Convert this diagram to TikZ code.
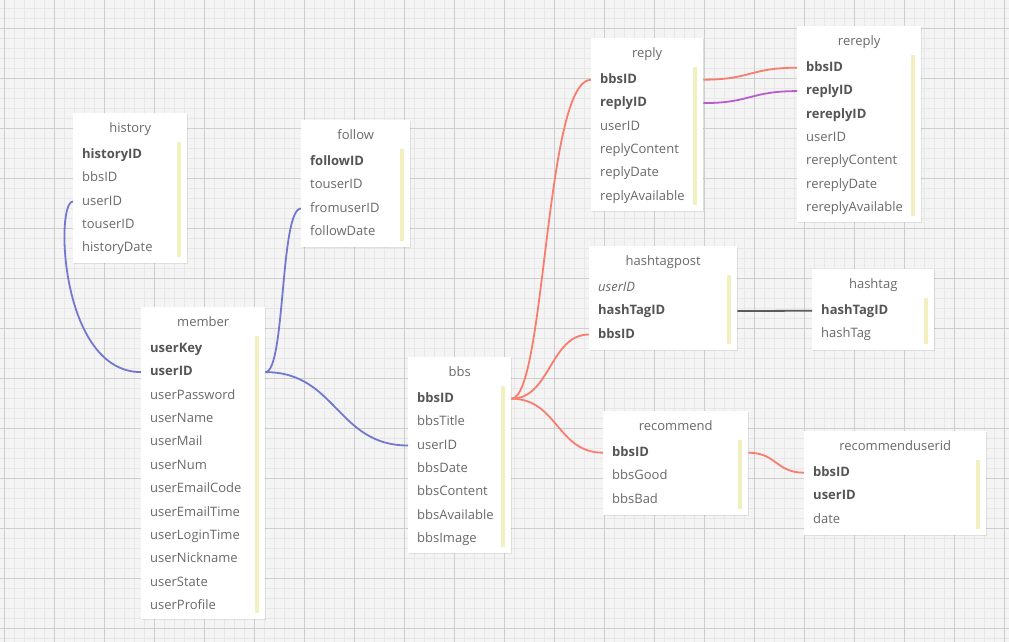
\documentclass[tikz,border=0pt]{standalone}
\usepackage{fontspec}
\setmainfont{Open Sans}
\usetikzlibrary{positioning,shadows}
\definecolor{gridbg}{RGB}{244,244,244}
\definecolor{gridminor}{RGB}{231,231,231}
\definecolor{gridmajor}{RGB}{206,206,206}
\definecolor{txtgray}{RGB}{105,105,105}
\definecolor{keygray}{RGB}{85,85,85}
\definecolor{baryellow}{RGB}{243,240,192}
\definecolor{userblue}{RGB}{115,120,205}
\definecolor{bbsred}{RGB}{248,125,110}
\definecolor{replypurple}{RGB}{185,92,205}
\definecolor{tagdark}{RGB}{90,90,90}

\begin{document}
\begin{tikzpicture}[
  x=1pt, y=-1pt,
  tbl/.style={rectangle, anchor=north west, fill=white, inner sep=0pt,
    drop shadow={shadow xshift=0.6pt, shadow yshift=-1pt, opacity=0.18}},
  ttl/.style={anchor=north, minimum height=31pt, inner sep=0pt, text height=9.5pt, text depth=2.5pt,
    text=txtgray, font=\fontsize{13}{15}\selectfont},
  field/.style={inner sep=0pt, minimum height=23pt, text height=9.5pt, text depth=2.5pt,
    text=txtgray, font=\fontsize{13}{15}\selectfont},
  key/.style={field, text=keygray, font=\fontsize{13}{15}\selectfont\bfseries},
  first/.style={below right=30pt and 9pt of #1.north west},
  under/.style={below right=0pt and 0pt of #1.south west},
  bar/.style={draw=baryellow, line width=4pt},
  link/.style={line width=1.8pt}
]
  \useasboundingbox (0,0) rectangle (1009,642);
  % grid
  \fill[gridbg] (0,0) rectangle (1009,642);
  \draw[gridminor, line width=0.9pt, shift={(4,8)}, step=10pt] (-4,-8) grid (1005,634);
  \draw[gridmajor, line width=0.9pt, shift={(4,28)}, step=50pt] (-4,-28) grid (1005,614);

  % history
  \node[tbl, minimum width=114pt, minimum height=150pt] (history) at (73,113) {};
  \node[ttl] (history-t) at (history.north) {history};
  \node[key, first=history] (history-historyID) {historyID};
  \node[field, under=history-historyID] (history-bbsID) {bbsID};
  \node[field, under=history-bbsID] (history-userID) {userID};
  \node[field, under=history-userID] (history-touserID) {touserID};
  \node[field, under=history-touserID] (history-historyDate) {historyDate};

  % follow
  \node[tbl, minimum width=109pt, minimum height=127pt] (follow) at (301,120) {};
  \node[ttl] (follow-t) at (follow.north) {follow};
  \node[key, first=follow] (follow-followID) {followID};
  \node[field, under=follow-followID] (follow-touserID) {touserID};
  \node[field, under=follow-touserID] (follow-fromuserID) {fromuserID};
  \node[field, under=follow-fromuserID] (follow-followDate) {followDate};

  % member
  \node[tbl, minimum width=124pt, minimum height=312pt] (member) at (141,307) {};
  \node[ttl] (member-t) at (member.north) {member};
  \node[key, first=member] (member-userKey) {userKey};
  \node[key, under=member-userKey] (member-userID) {userID};
  \node[field, under=member-userID] (member-userPassword) {userPassword};
  \node[field, under=member-userPassword] (member-userName) {userName};
  \node[field, under=member-userName] (member-userMail) {userMail};
  \node[field, under=member-userMail] (member-userNum) {userNum};
  \node[field, under=member-userNum] (member-userEmailCode) {userEmailCode};
  \node[field, under=member-userEmailCode] (member-userEmailTime) {userEmailTime};
  \node[field, under=member-userEmailTime] (member-userLoginTime) {userLoginTime};
  \node[field, under=member-userLoginTime] (member-userNickname) {userNickname};
  \node[field, under=member-userNickname] (member-userState) {userState};
  \node[field, under=member-userState] (member-userProfile) {userProfile};

  % bbs
  \node[tbl, minimum width=103pt, minimum height=196pt] (bbs) at (408,357) {};
  \node[ttl] (bbs-t) at (bbs.north) {bbs};
  \node[key, first=bbs] (bbs-bbsID) {bbsID};
  \node[field, under=bbs-bbsID] (bbs-bbsTitle) {bbsTitle};
  \node[field, under=bbs-bbsTitle] (bbs-userID) {userID};
  \node[field, under=bbs-userID] (bbs-bbsDate) {bbsDate};
  \node[field, under=bbs-bbsDate] (bbs-bbsContent) {bbsContent};
  \node[field, under=bbs-bbsContent] (bbs-bbsAvailable) {bbsAvailable};
  \node[field, under=bbs-bbsAvailable] (bbs-bbsImage) {bbsImage};

  % reply
  \node[tbl, minimum width=112pt, minimum height=173pt] (reply) at (591,38) {};
  \node[ttl] (reply-t) at (reply.north) {reply};
  \node[key, first=reply] (reply-bbsID) {bbsID};
  \node[key, under=reply-bbsID] (reply-replyID) {replyID};
  \node[field, under=reply-replyID] (reply-userID) {userID};
  \node[field, under=reply-userID] (reply-replyContent) {replyContent};
  \node[field, under=reply-replyContent] (reply-replyDate) {replyDate};
  \node[field, under=reply-replyDate] (reply-replyAvailable) {replyAvailable};

  % rereply
  \node[tbl, minimum width=124pt, minimum height=196pt] (rereply) at (797,26) {};
  \node[ttl] (rereply-t) at (rereply.north) {rereply};
  \node[key, first=rereply] (rereply-bbsID) {bbsID};
  \node[key, under=rereply-bbsID] (rereply-replyID) {replyID};
  \node[key, under=rereply-replyID] (rereply-rereplyID) {rereplyID};
  \node[field, under=rereply-rereplyID] (rereply-userID) {userID};
  \node[field, under=rereply-userID] (rereply-rereplyContent) {rereplyContent};
  \node[field, under=rereply-rereplyContent] (rereply-rereplyDate) {rereplyDate};
  \node[field, under=rereply-rereplyDate] (rereply-rereplyAvailable) {rereplyAvailable};

  % hashtagpost
  \node[tbl, minimum width=148pt, minimum height=104pt] (hashtagpost) at (589,246) {};
  \node[ttl] (hashtagpost-t) at (hashtagpost.north) {hashtagpost};
  \node[field, first=hashtagpost, font=\fontsize{13}{15}\selectfont\itshape] (hashtagpost-userID) {userID};
  \node[key, under=hashtagpost-userID] (hashtagpost-hashTagID) {hashTagID};
  \node[key, under=hashtagpost-hashTagID] (hashtagpost-bbsID) {bbsID};

  % hashtag
  \node[tbl, minimum width=122pt, minimum height=81pt] (hashtag) at (812,269) {};
  \node[ttl] (hashtag-t) at (hashtag.north) {hashtag};
  \node[key, first=hashtag] (hashtag-hashTagID) {hashTagID};
  \node[field, under=hashtag-hashTagID] (hashtag-hashTag) {hashTag};

  % recommend
  \node[tbl, minimum width=145pt, minimum height=104pt] (recommend) at (603,411) {};
  \node[ttl] (recommend-t) at (recommend.north) {recommend};
  \node[key, first=recommend] (recommend-bbsID) {bbsID};
  \node[field, under=recommend-bbsID] (recommend-bbsGood) {bbsGood};
  \node[field, under=recommend-bbsGood] (recommend-bbsBad) {bbsBad};

  % recommenduserid
  \node[tbl, minimum width=182pt, minimum height=104pt] (recommenduserid) at (804,431) {};
  \node[ttl] (recommenduserid-t) at (recommenduserid.north) {recommenduserid};
  \node[key, first=recommenduserid] (recommenduserid-bbsID) {bbsID};
  \node[key, under=recommenduserid-bbsID] (recommenduserid-userID) {userID};
  \node[field, under=recommenduserid-userID] (recommenduserid-date) {date};

  % yellow bars
  \foreach \t in {history,follow,member,bbs,reply,rereply,hashtagpost,hashtag,recommend,recommenduserid}
    \draw[bar] ([xshift=-8pt,yshift=-29pt]\t.north east) -- ([xshift=-8pt,yshift=6pt]\t.south east);

  % links
  \draw[link, userblue] (member.west |- member-userID) .. controls +(-81,0) and +(-18,0) .. (history.west |- history-userID);
  \draw[link, userblue] (member.east |- member-userID) .. controls +(20,0) and +(-21,0) .. (follow.west |- follow-fromuserID);
  \draw[link, userblue] (member.east |- member-userID) .. controls +(71,0) and +(-71,0) .. (bbs.west |- bbs-userID);
  \draw[link, bbsred] (bbs.east |- bbs-bbsID) .. controls +(34,0) and +(-46,0) .. (reply.west |- reply-bbsID);
  \draw[link, bbsred] (bbs.east |- bbs-bbsID) .. controls +(39,0) and +(-39,0) .. (hashtagpost.west |- hashtagpost-bbsID);
  \draw[link, bbsred] (bbs.east |- bbs-bbsID) .. controls +(46,0) and +(-46,0) .. (recommend.west |- recommend-bbsID);
  \draw[link, bbsred] (reply.east |- reply-bbsID) .. controls +(47,0) and +(-47,0) .. (rereply.west |- rereply-bbsID);
  \draw[link, replypurple] (reply.east |- reply-replyID) .. controls +(47,0) and +(-47,0) .. (rereply.west |- rereply-replyID);
  \draw[link, tagdark] (hashtagpost.east |- hashtagpost-hashTagID) -- (hashtag.west |- hashtag-hashTagID);
  \draw[link, bbsred] (recommend.east |- recommend-bbsID) .. controls +(28,0) and +(-28,0) .. (recommenduserid.west |- recommenduserid-bbsID);
\end{tikzpicture}
\end{document}
